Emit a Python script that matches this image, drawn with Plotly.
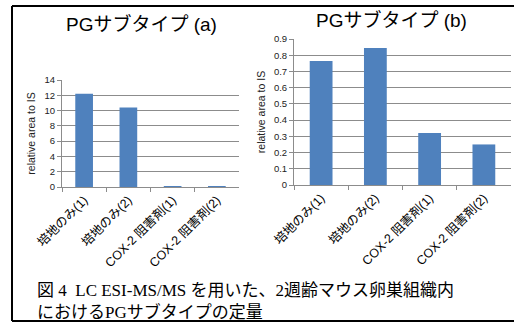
import plotly.graph_objects as go

categories = ["培地のみ(1)", "培地のみ(2)", "COX-2 阻害剤(1)", "COX-2 阻害剤(2)"]
values_a = [12.2, 10.4, 0.1, 0.1]
values_b = [0.765, 0.845, 0.32, 0.25]
title_a = "PGサブタイプ (a)"
title_b = "PGサブタイプ (b)"
y_title = "relative area to IS"
caption = "図 4  LC ESI-MS/MS を用いた、2週齢マウス卵巣組織内<br>におけるPGサブタイプの定量"

W, H = 520, 323
def px(x): return x / W
def py(y): return 1 - y / H

BAR = "#4F81BD"
GRID = "#8c8c8c"
SANS = "Arial, Liberation Sans, Noto Sans CJK JP"

fig = go.Figure()
fig.add_trace(go.Bar(x=categories, y=values_a, marker=dict(color=BAR, line=dict(width=0)),
                     width=0.4, xaxis="x", yaxis="y", showlegend=False))
fig.add_trace(go.Bar(x=categories, y=values_b, marker=dict(color=BAR, line=dict(width=0)),
                     width=0.42, xaxis="x2", yaxis="y2", showlegend=False))

xcommon = dict(type="category", tickangle=-45, showgrid=False, showline=True, linecolor=GRID,
               linewidth=1, ticks="outside", tickson="boundaries", ticklen=4, tickcolor=GRID,
               automargin=False,
               tickfont=dict(family=SANS, size=12.5, color="#000"))
ycommon = dict(showgrid=True, gridcolor=GRID, gridwidth=1, showline=True, linecolor=GRID,
               ticks="outside", ticklen=4, tickcolor=GRID, zeroline=False, automargin=False,
               tickfont=dict(family=SANS, size=9.5, color="#222"),
               title=dict(text=y_title, font=dict(family=SANS, size=10.5, color="#222"), standoff=6))

fig.update_layout(
    template="none",
    width=W, height=H, margin=dict(l=0, r=0, t=0, b=0, pad=0), autosize=False,
    paper_bgcolor="white", plot_bgcolor="white",
    xaxis=dict(domain=[px(62), px(239)], anchor="y", **xcommon),
    yaxis=dict(domain=[py(187), py(80)], anchor="x", range=[0, 14], dtick=2, **ycommon),
    xaxis2=dict(domain=[px(294), px(511)], anchor="y2", **xcommon),
    yaxis2=dict(domain=[py(185), py(39)], anchor="x2", range=[0, 0.9], dtick=0.1, **ycommon),
    annotations=[
        dict(text=title_a, x=px(141), y=py(24), xref="paper", yref="paper", showarrow=False,
             font=dict(family=SANS, size=19, color="#000"), xanchor="center", yanchor="middle"),
        dict(text=title_b, x=px(391), y=py(20), xref="paper", yref="paper", showarrow=False,
             font=dict(family=SANS, size=19, color="#000"), xanchor="center", yanchor="middle"),
        dict(text=caption, x=px(35), y=py(301), xref="paper", yref="paper", showarrow=False,
             align="left", xanchor="left", yanchor="middle",
             font=dict(family="Liberation Serif, Noto Sans CJK JP", size=17, color="#000")),
    ],
    shapes=[
        dict(type="line", xref="paper", yref="paper", x0=px(12), x1=px(514), y0=py(6), y1=py(6),
             line=dict(color="black", width=2)),
        dict(type="line", xref="paper", yref="paper", x0=px(12), x1=px(12), y0=py(6), y1=py(321),
             line=dict(color="black", width=2)),
        dict(type="line", xref="paper", yref="paper", x0=px(12), x1=px(514), y0=py(321), y1=py(321),
             line=dict(color="black", width=2)),
    ],
)

fig.write_html("out.html")
